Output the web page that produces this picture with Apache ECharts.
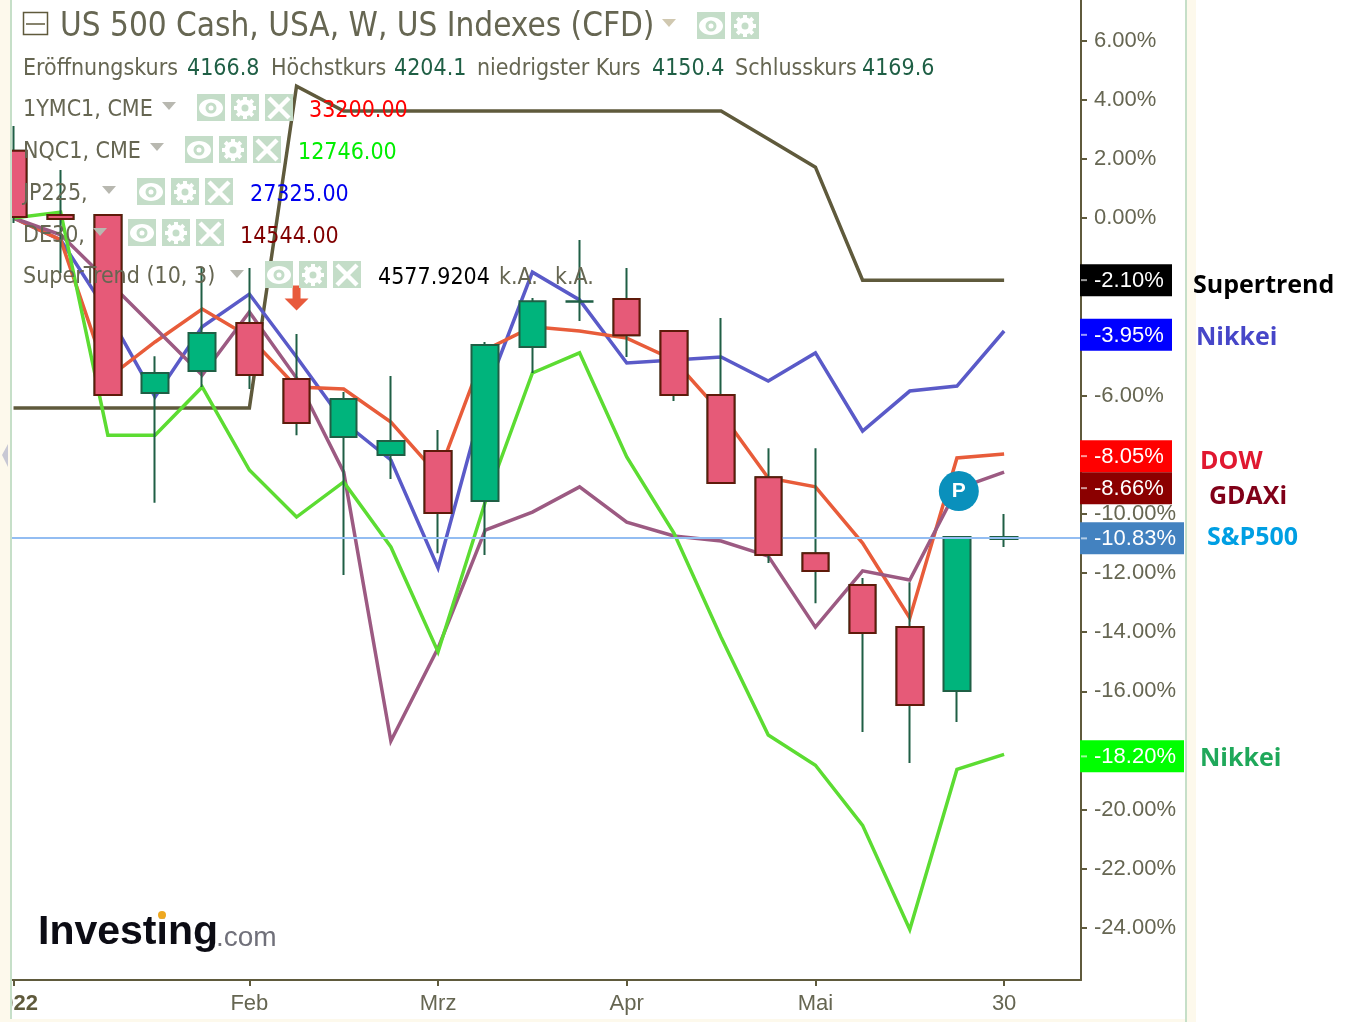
<!DOCTYPE html>
<html><head><meta charset="utf-8">
<style>html,body{margin:0;padding:0;background:#fff}#c{width:1353px;height:1022px}</style>
<script src="https://cdn.jsdelivr.net/npm/echarts@6/dist/echarts.min.js"></script>
</head><body><div id="c"></div>
<script>
// ---- data (percent change) ----
const weekIndex = [0,1,2,3,4,5,6,7,8,9,10,11,12,13,14,15,16,17,18,19,20,21];
const spOpen  = [2.27,0.10,0.10,-5.92,-5.17,-3.55,-5.44,-7.40,-8.01,-7.88,-9.57,-4.36,-2.83,-2.74,-3.82,-5.98,-8.76,-11.33,-12.41,-13.83,-15.99,-10.85];
const spClose = [0.03,-0.03,-5.98,-5.24,-3.89,-5.31,-6.93,-6.12,-7.54,-9.97,-4.29,-2.81,-2.81,-3.96,-5.98,-8.96,-11.39,-11.93,-14.03,-16.46,-10.78,-10.78];
const spLow   = [-0.17,-1.86,-5.98,-9.63,-5.71,-5.78,-7.34,-12.07,-8.82,-11.33,-11.39,-5.24,-3.48,-4.70,-6.19,-8.96,-11.66,-13.02,-17.38,-18.42,-17.04,-11.12];
const spHigh  = [3.11,1.62,0.10,-4.67,-1.66,-1.69,-3.92,-5.88,-5.34,-7.17,-4.19,-2.70,-0.74,-1.69,-3.82,-3.38,-7.78,-7.78,-12.17,-12.31,-10.78,-10.01];
const nikkei  = [0,-0.74,-3.21,-6.05,-3.68,-2.57,-4.70,-6.90,-8.18,-11.83,-5.98,-1.83,-2.77,-4.90,-4.80,-4.70,-5.51,-4.56,-7.20,-5.85,-5.68,-3.82];
const dow     = [0,-0.74,-5.41,-4.19,-3.08,-4.02,-5.71,-5.78,-6.90,-8.69,-4.46,-3.68,-3.82,-4.06,-4.80,-6.59,-8.79,-9.09,-10.99,-13.52,-8.11,-7.98];
const gdaxi   = [0,-0.57,-2.13,-3.72,-5.31,-3.18,-5.41,-8.59,-17.68,-14.54,-10.55,-9.94,-9.09,-10.28,-10.75,-10.92,-11.43,-13.83,-11.93,-12.24,-9.16,-8.59];
const nasdaq  = [0,0.20,-7.34,-7.34,-5.71,-8.52,-10.11,-8.92,-11.12,-14.67,-9.60,-5.24,-4.56,-8.08,-10.65,-14.17,-17.48,-18.50,-20.53,-24.05,-18.64,-18.13];
const supertrend = [-6.42,-6.42,-6.42,-6.42,-6.42,-6.42,4.46,3.62,3.62,3.62,3.62,3.62,3.62,3.62,3.62,3.62,2.67,1.72,-2.10,-2.10,-2.10,-2.10];
const yTickValues = [6,4,2,0,-2,-4,-6,-8,-10,-12,-14,-16,-18,-20,-22,-24];
const xTickIndex = [0,5,9,13,17,21];
const xTickLabels = ['2022','Feb','Mrz','Apr','Mai','30'];
const tagValues = [-2.10,-3.95,-8.05,-8.66,-10.83,-18.20];
const tagColors = ['#000000','#0000ff','#ff0000','#8b0000','#4382c0','#00ff00'];
const priceLine = -10.80;
const arrowWeek = 6, arrowValue = -2.7;
const pivotWeek = 20.04, pivotValue = -9.23;

// ---- styling ----
const UI = '"DejaVu Sans Condensed","DejaVu Sans",sans-serif';
const AR = '"Liberation Sans",Arial,sans-serif';
const NS = '"Open Sans","Noto Sans",sans-serif';
const OLIVE = '#5f5a3c', GREY = '#666652', DKGREEN = '#1f5f45';
const X_MIN = -0.032, X_MAX = 22.63, Y_MIN = -25.76, Y_MAX = 7.37;

const candles = weekIndex.map(i => [i, spOpen[i], spClose[i], spLow[i], spHigh[i]]);
const downBodies = weekIndex.filter(i => spClose[i] < spOpen[i]).map(i => [i, spOpen[i], spClose[i], spClose[i], spOpen[i]]);

function line(name, data, color){
  return {name, type:'line', data:weekIndex.map(i=>[i,data[i]]), showSymbol:false, symbol:'none', z:3,
    lineStyle:{color, width:3.5, join:'miter'}, itemStyle:{color}, silent:true};
}

// ---- legend panel (plain text and icons) ----
const g = [];
function txt(text,x,y,fill,size,family,weight){
  g.push({type:'text',z:50,silent:true,style:{text,x,y:y+2,fill,fontSize:size,fontFamily:family||UI,fontWeight:weight||'normal',verticalAlign:'middle',align:'left'}});
}
function tri(cx,cy,fill){
  g.push({type:'polygon',z:50,silent:true,shape:{points:[[cx-7,cy-4],[cx+7,cy-4],[cx,cy+4]]},style:{fill:fill||'#b8b8b0'}});
}
function icon(kind,x,y){
  const c = '#c4ddc8', w = '#ffffff', cx=x+14, cy=y+14;
  g.push({type:'rect',z:50,silent:true,shape:{x,y,width:28,height:27},style:{fill:c}});
  if(kind==='eye'){
    g.push({type:'ellipse',z:51,silent:true,shape:{cx,cy,rx:12,ry:9},style:{fill:w}});
    g.push({type:'circle',z:52,silent:true,shape:{cx,cy,r:5.5},style:{fill:c}});
    g.push({type:'circle',z:53,silent:true,shape:{cx,cy,r:2.5},style:{fill:w}});
  } else if(kind==='gear'){
    g.push({type:'circle',z:51,silent:true,shape:{cx,cy,r:8.5},style:{fill:w}});
    for(let a=0;a<8;a++){
      const t=a*Math.PI/4;
      g.push({type:'line',z:51,silent:true,shape:{x1:cx,y1:cy,x2:cx+11*Math.cos(t),y2:cy+11*Math.sin(t)},style:{stroke:w,lineWidth:4}});
    }
    g.push({type:'circle',z:52,silent:true,shape:{cx,cy,r:3.5},style:{fill:c}});
  } else {
    g.push({type:'line',z:51,silent:true,shape:{x1:cx-10,y1:cy-10,x2:cx+10,y2:cy+10},style:{stroke:w,lineWidth:4.5}});
    g.push({type:'line',z:51,silent:true,shape:{x1:cx+10,y1:cy-10,x2:cx-10,y2:cy+10},style:{stroke:w,lineWidth:4.5}});
  }
}
function icons(x,y,kinds){ kinds.forEach((k,i)=>icon(k,x+34*i,y)); }
const K3=['eye','gear','x'];

// page edges
g.push({type:'rect',z:40,silent:true,shape:{x:0,y:0,width:10,height:1022},style:{fill:'#fdf9ec'}});
g.push({type:'rect',z:40,silent:true,shape:{x:10,y:0,width:2,height:1022},style:{fill:'#c6dfc8'}});
g.push({type:'rect',z:40,silent:true,shape:{x:1185,y:0,width:2,height:1022},style:{fill:'#c6dfc8'}});
g.push({type:'rect',z:40,silent:true,shape:{x:1187,y:0,width:9,height:1022},style:{fill:'#fdf9ec'}});
g.push({type:'rect',z:40,silent:true,shape:{x:10,y:1019,width:1175,height:3},style:{fill:'#fdf9ec'}});
g.push({type:'polygon',z:41,silent:true,shape:{points:[[8,444],[8,467],[2,455]]},style:{fill:'#c8c8d4'}});

// header
g.push({type:'rect',z:50,silent:true,shape:{x:23.5,y:12.5,width:24,height:22},style:{fill:'none',stroke:OLIVE,lineWidth:1.5}});
g.push({type:'line',z:50,silent:true,shape:{x1:26,y1:24,x2:45,y2:24},style:{stroke:OLIVE,lineWidth:1.5}});
txt('US 500 Cash, USA, W, US Indexes (CFD)',60,25,GREY,33);
tri(669,23,'#d0c8b0');
icons(697,12,['eye','gear']);

const statY=67;
[['Eröffnungskurs',23,'4166.8',187],['Höchstkurs',271,'4204.1',394],['niedrigster Kurs',477,'4150.4',652],['Schlusskurs',735,'4169.6',862]]
 .forEach(r=>{txt(r[0],r[1],statY,GREY,23);txt(r[2],r[3],statY,DKGREEN,23);});

[['1YMC1, CME',23,108,169,106,197,94,'33200.00',309,'#ff0000'],
 ['NQC1, CME',23,150,157,147,185,136,'12746.00',298,'#00ee00'],
 ['JP225,',23,192,109,190,137,178,'27325.00',250,'#0000ee'],
 ['DE30,',23,234,100,232,128,219,'14544.00',240,'#800000'],
 ['SuperTrend (10, 3)',23,275,237,274,265,261,'4577.9204',378,'#000000']]
 .forEach(r=>{txt(r[0],r[1],r[2],GREY,23);tri(r[3],r[4]);icons(r[5],r[6],K3);txt(r[7],r[8],r[2]+1,r[9],23);});
txt('k.A.',499,276,GREY,23);
txt('k.A.',555,276,GREY,23);

// logo
g.push({type:'text',z:50,silent:true,style:{text:'Investing',x:38,y:933,fill:'#0c0c14',fontSize:41,fontFamily:AR,fontWeight:'bold',verticalAlign:'middle',align:'left',shadowBlur:2,shadowColor:'rgba(0,0,0,.5)'}});
g.push({type:'text',z:50,silent:true,style:{text:'.com',x:216,y:938,fill:'#70707a',fontSize:28,fontFamily:AR,verticalAlign:'middle',align:'left'}});
g.push({type:'circle',z:51,silent:true,shape:{cx:162,cy:915,r:4},style:{fill:'#eea820'}});

// right names
[['Supertrend',1193,284,'#000000'],['Nikkei',1196,336,'#4646c8'],['DOW',1200,460,'#e01830'],['GDAXi',1209,495,'#800018'],['S&P500',1207,536,'#009fe3'],['Nikkei',1200,757,'#1fa85a']]
 .forEach(r=>txt(r[0],r[1],r[2],r[3],25,NS,'bold'));

let tagBottom = -Infinity;
function renderTag(params, api){
  if(params.dataIndex===0) tagBottom = -Infinity;
  const p = api.coord([api.value(0), api.value(1)]);
  const h = 32, label = api.value(1).toFixed(2)+'%';
  const cy = Math.max(p[1], tagBottom + h/2);
  tagBottom = cy + h/2;
  const w = label.length>6 ? 103 : 91;
  return {type:'group',children:[
    {type:'rect',shape:{x:p[0]-1,y:cy-h/2,width:w+1,height:h},style:{fill:tagColors[params.dataIndex]}},
    {type:'rect',shape:{x:p[0],y:cy-1,width:6,height:2},style:{fill:'rgba(255,255,255,.6)'}},
    {type:'text',style:{text:label,x:p[0]+13,y:cy+1,fill:'#fff',fontSize:22,fontFamily:AR,verticalAlign:'middle',align:'left'}}
  ]};
}

const option = {
  animation:false,
  backgroundColor:'#ffffff',
  grid:{left:12,top:0,width:1069,height:980,containLabel:false,outerBoundsMode:'none'},
  xAxis:{type:'value',min:X_MIN,max:X_MAX,splitLine:{show:false},
    axisLine:{onZero:false,lineStyle:{color:OLIVE,width:2}},
    axisTick:{show:true,length:6,customValues:xTickIndex,lineStyle:{color:OLIVE,width:2}},
    axisLabel:{show:true,customValues:xTickIndex,margin:13,fontSize:22,fontFamily:AR,color:GREY,hideOverlap:false,showMinLabel:true,showMaxLabel:true,
      formatter:v=>{const s=xTickLabels[xTickIndex.indexOf(v)];return v===0?'{b|'+s+'}':s;},
      rich:{b:{fontWeight:'bold',fontSize:22,fontFamily:AR,color:OLIVE}}}},
  yAxis:{type:'value',position:'right',min:Y_MIN,max:Y_MAX,splitLine:{show:false},
    axisLine:{show:true,onZero:false,lineStyle:{color:OLIVE,width:2}},
    axisTick:{show:true,length:6,customValues:yTickValues,lineStyle:{color:OLIVE,width:2}},
    axisLabel:{show:true,customValues:yTickValues,margin:13,fontSize:22,fontFamily:AR,color:GREY,hideOverlap:false,
      formatter:v=>v.toFixed(2)+'%'}},
  graphic:{elements:g},
  series:[
    line('Supertrend',supertrend,OLIVE),
    line('Nikkei',nikkei,'#5a5ac8'),
    line('DOW',dow,'#e85c3a'),
    line('GDAXi',gdaxi,'#9c5a82'),
    line('Nasdaq',nasdaq,'#5cdc32'),
    {name:'S&P500',type:'candlestick',data:candles,encode:{x:0,y:[1,2,3,4]},barWidth:27,z:5,silent:true,
      itemStyle:{color:'#00b47c',color0:'#e65a78',borderColor:DKGREEN,borderColor0:DKGREEN,borderWidth:2},
      markLine:{silent:true,symbol:'none',animation:false,label:{show:false},data:[{yAxis:priceLine}],lineStyle:{color:'#93bdf2',width:2,type:'solid'},z:6},
      markPoint:{silent:true,animation:false,z:9,data:[
        {coord:[arrowWeek,arrowValue],symbol:'path://M8,0 L16,0 L16,13 L24,13 L12,25 L0,13 L8,13 Z',symbolSize:[24,25],symbolOffset:[0,0],itemStyle:{color:'#e85a3c'},label:{show:false}},
        {coord:[pivotWeek,pivotValue],symbol:'circle',symbolSize:40,itemStyle:{color:'#0a90bc'},label:{show:true,position:'inside',formatter:'P',color:'#fff',fontSize:21,fontWeight:'bold',fontFamily:AR}}
      ]}},
    {name:'S&P500 down bodies',type:'candlestick',data:downBodies,encode:{x:0,y:[1,2,3,4]},barWidth:27,z:6,silent:true,
      itemStyle:{color:'#e65a78',color0:'#e65a78',borderColor:'#5f1a0a',borderColor0:'#5f1a0a',borderWidth:2}},
    {name:'Last values',type:'custom',coordinateSystem:'cartesian2d',clip:false,z:20,silent:true,renderItem:renderTag,
      data:tagValues.map(v=>[X_MAX,v]),encode:{x:0,y:1}}
  ]
};
echarts.init(document.getElementById('c'),null,{renderer:'canvas'}).setOption(option);
</script></body></html>
